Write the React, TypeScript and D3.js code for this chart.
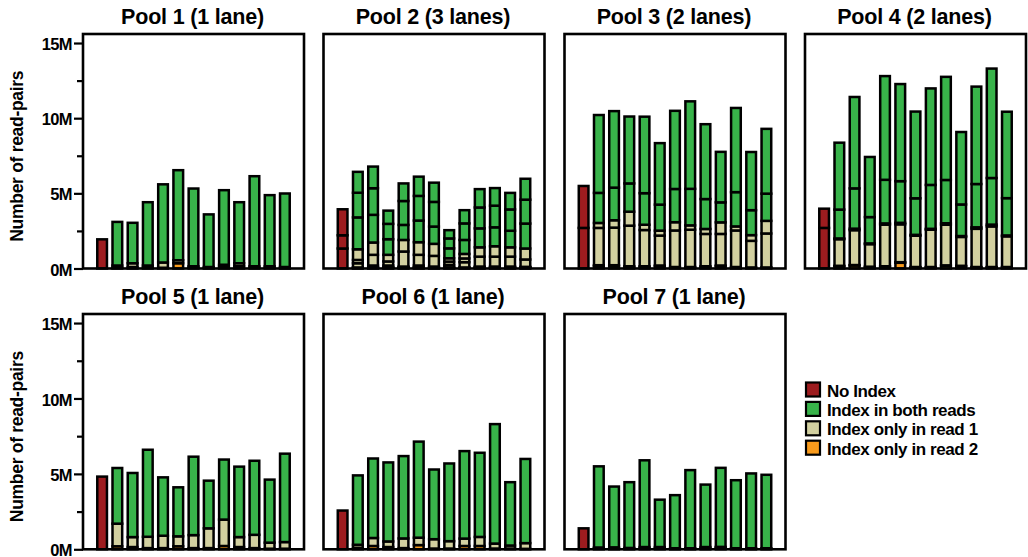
import React, { useEffect, useRef } from "react";
import * as d3 from "d3";

// Read-pair counts, in millions. Lanes are listed bottom-up within each category.
const poolTitles = [
  "Pool 1 (1 lane)",
  "Pool 2 (3 lanes)",
  "Pool 3 (2 lanes)",
  "Pool 4 (2 lanes)",
  "Pool 5 (1 lane)",
  "Pool 6 (1 lane)",
  "Pool 7 (1 lane)",
];

const sampleIds = ["S01", "S02", "S03", "S04", "S05", "S06", "S07", "S08", "S09", "S10", "S11", "S12"];

// Undemultiplexed reads per lane
const noIndexReads: number[][] = [
  [1.94],
  [1.33, 0.88, 1.73],
  [2.7, 2.79],
  [2.7, 1.28],
  [4.82],
  [2.57],
  [1.39],
];

// Index found in both reads: [pool][lane][sample]
const bothReads: number[][][] = [
  [[2.9, 2.69, 4.21, 5.2, 5.99, 5.17, 3.5, 4.96, 4.06, 5.99, 4.73, 4.89]],
  [
    [2.12, 1.84, 1.04, 1.0, 1.44, 1.15, 0.66, 0.93, 1.26, 1.26, 1.1, 1.66],
    [1.64, 1.77, 1.02, 1.59, 1.64, 1.64, 0.66, 1.1, 1.39, 1.44, 1.42, 1.59],
    [1.39, 1.44, 0.88, 1.17, 1.28, 1.28, 0.55, 0.88, 1.22, 1.17, 1.1, 1.39],
  ],
  [
    [2.0, 2.17, 1.88, 2.1, 1.73, 2.21, 2.43, 1.99, 1.33, 2.28, 1.66, 1.81],
    [5.18, 5.09, 4.45, 5.09, 4.09, 5.2, 5.82, 4.98, 3.36, 5.6, 3.87, 4.31],
  ],
  [
    [1.92, 2.68, 1.75, 2.9, 2.77, 2.43, 2.92, 2.88, 2.1, 2.88, 3.1, 2.48],
    [4.45, 6.08, 4.0, 6.9, 6.46, 5.77, 6.42, 6.86, 4.82, 6.48, 7.28, 5.75],
  ],
  [[3.69, 4.25, 5.77, 3.87, 3.25, 5.2, 3.16, 3.98, 4.67, 4.91, 4.18, 5.86]],
  [[4.6, 5.27, 5.24, 5.46, 6.37, 4.62, 5.15, 5.8, 5.58, 7.92, 4.2, 5.58]],
  [[5.38, 4.03, 4.36, 5.75, 3.14, 3.52, 5.18, 4.14, 5.24, 4.51, 4.96, 4.87]],
];

// Index found only in read 1
const read1Only: number[][][] = [
  [[0.15, 0.25, 0.15, 0.35, 0.2, 0.1, 0.07, 0.15, 0.2, 0.1, 0.1, 0.07]],
  [
    [0.28, 0.13, 0.13, 0.06, 0.13, 0.06, 0.17, 0.35, 0.06, 0.06, 0.06, 0.04],
    [0.22, 0.71, 0.27, 1.0, 0.71, 0.71, 0.22, 0.25, 0.66, 0.66, 0.66, 0.49],
    [0.71, 0.82, 0.44, 0.77, 0.84, 0.8, 0.22, 0.3, 0.62, 0.69, 0.62, 0.73],
  ],
  [
    [2.48, 2.5, 2.7, 2.41, 1.99, 2.43, 2.48, 2.15, 2.1, 2.43, 1.77, 2.26],
    [0.33, 0.49, 0.93, 0.35, 0.33, 0.55, 0.29, 0.33, 0.77, 0.27, 0.38, 0.84],
  ],
  [
    [1.77, 2.32, 1.5, 2.77, 2.52, 2.08, 2.48, 2.7, 1.92, 2.54, 2.7, 2.04],
    [0.05, 0.1, 0.05, 0.08, 0.1, 0.06, 0.06, 0.1, 0.06, 0.1, 0.12, 0.06],
  ],
  [[1.5, 0.66, 0.75, 0.82, 0.66, 0.86, 1.31, 1.75, 0.66, 0.88, 0.4, 0.44]],
  [[0.2, 0.53, 0.37, 0.64, 0.49, 0.62, 0.49, 0.49, 0.6, 0.33, 0.2, 0.38]],
  [[0.05, 0.06, 0.06, 0.1, 0.1, 0.04, 0.04, 0.1, 0.06, 0.04, 0.04, 0.04]],
];

// Index found only in read 2
const read2Only: number[][][] = [
  [[0.05, 0.1, 0.05, 0.05, 0.35, 0.05, 0.03, 0.1, 0.15, 0.05, 0.05, 0.03]],
  [
    [0.03, 0.03, 0.03, 0.03, 0.03, 0.03, 0.03, 0.03, 0.03, 0.03, 0.03, 0.03],
    [0.02, 0.02, 0.02, 0.02, 0.02, 0.02, 0.02, 0.02, 0.02, 0.02, 0.02, 0.02],
    [0.02, 0.02, 0.02, 0.02, 0.02, 0.02, 0.02, 0.02, 0.02, 0.02, 0.02, 0.02],
  ],
  [
    [0.15, 0.15, 0.1, 0.1, 0.15, 0.06, 0.06, 0.1, 0.15, 0.06, 0.05, 0.05],
    [0.07, 0.07, 0.05, 0.05, 0.05, 0.04, 0.04, 0.05, 0.05, 0.04, 0.02, 0.02],
  ],
  [
    [0.15, 0.2, 0.1, 0.12, 0.38, 0.08, 0.08, 0.18, 0.15, 0.08, 0.08, 0.08],
    [0.03, 0.03, 0.02, 0.03, 0.04, 0.02, 0.02, 0.03, 0.03, 0.02, 0.02, 0.02],
  ],
  [[0.2, 0.15, 0.08, 0.08, 0.2, 0.08, 0.08, 0.22, 0.15, 0.08, 0.04, 0.04]],
  [[0.1, 0.22, 0.15, 0.08, 0.28, 0.05, 0.05, 0.22, 0.22, 0.05, 0.05, 0.03]],
  [[0.07, 0.07, 0.03, 0.05, 0.05, 0.03, 0.03, 0.05, 0.1, 0.03, 0.03, 0.03]],
];

const yTickValues = [0, 5, 10, 15];
const yMinorTickValues = [2.5, 7.5, 12.5];
const legendLabels = ["No Index", "Index in both reads", "Index only in read 1", "Index only in read 2"];

// Styling and layout
const COLORS = {
  noIndex: "#9d1c1f",
  both: "#38b34a",
  read1: "#d2d0a0",
  read2: "#f99b1c",
};
const legendColors = [COLORS.noIndex, COLORS.both, COLORS.read1, COLORS.read2];
const FONT = "'Liberation Sans', Arial, Helvetica, sans-serif";
const WIDTH = 1028;
const HEIGHT = 557;
const PANEL_LEFTS = [83, 323.5, 564.5, 805];
const PANEL_WIDTH = 221;
const ROW_TOPS = [34, 314];
const ROW_BOTTOMS = [268.5, 549.3];
const Y_MAX = 15.6;
const BAR_STROKE = 2.5;

type Segment = { y0: number; y1: number; color: string };

function barSegments(pool: number): Segment[][] {
  const bars: Segment[][] = [];
  // first bar: reads without an index, stacked by lane
  let acc = 0;
  const first: Segment[] = [];
  noIndexReads[pool].forEach((v) => {
    first.push({ y0: acc, y1: acc + v, color: COLORS.noIndex });
    acc += v;
  });
  bars.push(first);
  // sample bars: read 2 only, read 1 only, both reads; each split by lane
  sampleIds.forEach((_, s) => {
    let total = 0;
    const segs: Segment[] = [];
    const groups: [number[][], string][] = [
      [read2Only[pool], COLORS.read2],
      [read1Only[pool], COLORS.read1],
      [bothReads[pool], COLORS.both],
    ];
    groups.forEach(([lanes, color]) => {
      lanes.forEach((lane) => {
        const v = lane[s];
        segs.push({ y0: total, y1: total + v, color });
        total += v;
      });
    });
    bars.push(segs);
  });
  return bars;
}

function YAxis({ y, x }: { y: d3.ScaleLinear<number, number>; x: number }) {
  const majorRef = useRef<SVGGElement>(null);
  const minorRef = useRef<SVGGElement>(null);
  useEffect(() => {
    if (majorRef.current) {
      const g = d3.select(majorRef.current);
      g.call(
        d3
          .axisLeft(y)
          .tickValues(yTickValues)
          .tickFormat((d) => `${d}M`)
          .tickSize(9)
          .tickPadding(2)
      );
      g.select(".domain").remove();
      g.selectAll(".tick line").attr("stroke", "#000").attr("stroke-width", 2.2);
      g.selectAll(".tick text")
        .attr("fill", "#000")
        .attr("font-family", FONT)
        .attr("font-weight", "bold")
        .attr("font-size", 16.5)
        .attr("letter-spacing", -0.6)
        .attr("dy", "0.4em");
    }
    if (minorRef.current) {
      const g = d3.select(minorRef.current);
      g.call(d3.axisLeft(y).tickValues(yMinorTickValues).tickFormat(() => "").tickSize(6));
      g.select(".domain").remove();
      g.selectAll(".tick line").attr("stroke", "#000").attr("stroke-width", 2.2);
    }
  }, [y]);
  return (
    <g>
      <g ref={majorRef} transform={`translate(${x},0)`} />
      <g ref={minorRef} transform={`translate(${x},0)`} />
    </g>
  );
}

function Panel({ pool }: { pool: number }) {
  const col = pool % 4;
  const row = Math.floor(pool / 4);
  const left = PANEL_LEFTS[col];
  const right = left + PANEL_WIDTH;
  const top = ROW_TOPS[row];
  const bottom = ROW_BOTTOMS[row];

  const y = d3.scaleLinear().domain([0, Y_MAX]).range([bottom, top]);
  const x = d3
    .scaleBand<number>()
    .domain(d3.range(sampleIds.length + 1))
    .range([left + 11.5, right - 11.5])
    .paddingInner(0.2)
    .paddingOuter(0.1);
  const bars = barSegments(pool);
  const bw = x.bandwidth();

  return (
    <g>
      <text
        x={(left + right) / 2 - 1}
        y={top - 10}
        textAnchor="middle"
        fontFamily={FONT}
        fontWeight="bold"
        fontSize={21.5}
        letterSpacing={-0.2}
      >
        {poolTitles[pool]}
      </text>
      {bars.map((segs, i) => (
        <g key={i}>
          {segs.map((sg, k) => (
            <rect
              key={k}
              x={(x(i) as number) + BAR_STROKE / 2}
              width={bw - BAR_STROKE}
              y={y(sg.y1)}
              height={Math.max(0, y(sg.y0) - y(sg.y1))}
              fill={sg.color}
              stroke="#000"
              strokeWidth={BAR_STROKE}
            />
          ))}
        </g>
      ))}
      <rect
        x={left}
        y={top}
        width={PANEL_WIDTH}
        height={bottom - top}
        fill="none"
        stroke="#000"
        strokeWidth={2.6}
      />
      {col === 0 && (
        <>
          <YAxis y={y} x={left} />
          <text
            transform={`translate(17,${(top + bottom) / 2 + 5}) rotate(-90)`}
            textAnchor="middle"
            dominantBaseline="central"
            fontFamily={FONT}
            fontWeight="bold"
            fontSize={17.5}
            letterSpacing={-0.3}
          >
            Number of read-pairs
          </text>
        </>
      )}
    </g>
  );
}

function Legend() {
  const x0 = 806;
  const y0 = 382.5;
  const step = 19.4;
  const size = 14;
  return (
    <g>
      {legendLabels.map((label, i) => (
        <g key={label} transform={`translate(${x0},${y0 + i * step})`}>
          <rect width={size} height={size} fill={legendColors[i]} stroke="#000" strokeWidth={2.2} />
          <text
            x={21}
            y={size}
            fontFamily={FONT}
            fontWeight="bold"
            fontSize={17}
            letterSpacing={-0.4}
          >
            {label}
          </text>
        </g>
      ))}
    </g>
  );
}

export default function App() {
  return (
    <svg
      width={WIDTH}
      height={HEIGHT}
      viewBox={`0 0 ${WIDTH} ${HEIGHT}`}
      style={{ position: "absolute", left: 0, top: 0, background: "#fff" }}
    >
      <rect width={WIDTH} height={HEIGHT} fill="#fff" />
      {poolTitles.map((_, p) => (
        <Panel key={p} pool={p} />
      ))}
      <Legend />
    </svg>
  );
}
